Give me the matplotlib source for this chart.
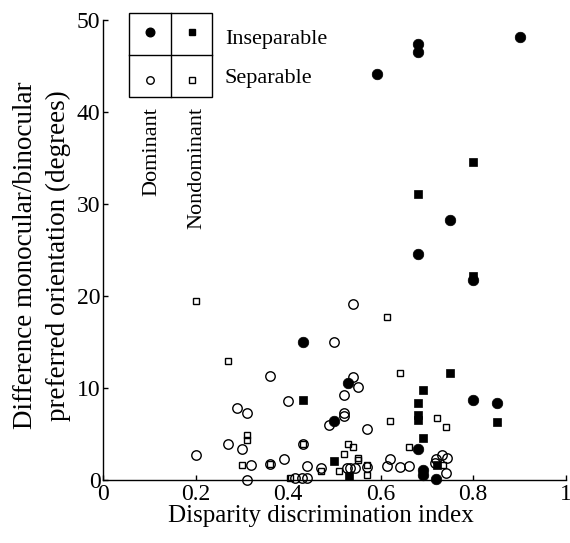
import matplotlib
matplotlib.use("Agg")
import matplotlib.pyplot as plt
from matplotlib.lines import Line2D
from matplotlib.patches import Rectangle

plt.rcParams['font.family'] = ['Liberation Serif', 'DejaVu Serif']

# Dominant eye, inseparable (filled circles)
dom_insep_x = [0.901, 0.681, 0.681, 0.591, 0.750, 0.681, 0.800, 0.431, 0.530, 0.500,
               0.800, 0.851, 0.681, 0.691, 0.691, 0.720]
dom_insep_y = [48.1, 47.4, 46.5, 44.1, 28.2, 24.5, 21.7, 15.0, 10.5, 6.4,
               8.7, 8.3, 3.3, 1.05, 0.5, 0.05]

# Nondominant eye, inseparable (filled squares)
nond_insep_x = [0.800, 0.681, 0.800, 0.750, 0.431, 0.691, 0.681, 0.681, 0.681, 0.851,
                0.691, 0.500, 0.721, 0.531]
nond_insep_y = [34.5, 31.1, 22.1, 11.6, 8.7, 9.75, 8.3, 7.0, 6.5, 6.3,
                4.5, 2.0, 1.6, 0.4]

# Dominant eye, separable (open circles)
dom_sep_x = [0.541, 0.499, 0.361, 0.400, 0.290, 0.310, 0.270, 0.300, 0.200, 0.320,
             0.360, 0.390, 0.310, 0.415, 0.431, 0.541, 0.552, 0.521, 0.521, 0.521,
             0.489, 0.571, 0.440, 0.471, 0.527, 0.534, 0.545, 0.571, 0.430, 0.440,
             0.613, 0.620, 0.642, 0.662, 0.720, 0.732, 0.743, 0.717, 0.741]
dom_sep_y = [19.1, 15.0, 11.3, 8.5, 7.8, 7.3, 3.9, 3.3, 2.7, 1.6,
             1.7, 2.2, 0.0, 0.2, 3.9, 11.2, 10.1, 9.2, 7.3, 6.9,
             5.9, 5.5, 1.5, 1.3, 1.3, 1.3, 1.3, 1.4, 0.15, 0.15,
             1.5, 2.2, 1.4, 1.5, 2.2, 2.7, 2.4, 1.8, 0.7]

# Nondominant eye, separable (open squares)
nond_sep_x = [0.200, 0.270, 0.613, 0.642, 0.620, 0.310, 0.310, 0.300, 0.360, 0.404,
              0.431, 0.530, 0.541, 0.662, 0.520, 0.552, 0.552, 0.471, 0.510, 0.571,
              0.571, 0.721, 0.741, 0.734]
nond_sep_y = [19.4, 12.9, 17.65, 11.6, 6.4, 4.9, 4.3, 1.6, 1.7, 0.2,
              3.9, 3.9, 3.6, 3.6, 2.8, 2.4, 2.1, 0.9, 0.9, 1.6,
              0.5, 6.7, 5.7, 1.6]

x_ticks = [0, 0.2, 0.4, 0.6, 0.8, 1]
x_tick_labels = ['0', '0.2', '0.4', '0.6', '0.8', '1']
y_ticks = [0, 10, 20, 30, 40, 50]

fig = plt.figure(figsize=(5.7, 5.43), dpi=100)
ax = fig.add_axes([0.181, 0.1166, 0.8114, 0.847])

ax.plot(dom_sep_x, dom_sep_y, 'o', ms=6.8, mfc='none', mec='black', mew=1.0, clip_on=False)
ax.plot(nond_sep_x, nond_sep_y, 's', ms=5.0, mfc='none', mec='black', mew=1.0, clip_on=False)
ax.plot(dom_insep_x, dom_insep_y, 'o', ms=7.6, mfc='black', mec='black', mew=0.5, clip_on=False)
ax.plot(nond_insep_x, nond_insep_y, 's', ms=5.5, mfc='black', mec='black', mew=0.5, clip_on=False)

ax.set_xlim(0, 1)
ax.set_ylim(0, 50)
ax.set_xticks(x_ticks)
ax.set_xticklabels(x_tick_labels)
ax.set_yticks(y_ticks)
for s in ['top', 'right']:
    ax.spines[s].set_visible(False)
for s in ['left', 'bottom']:
    ax.spines[s].set_linewidth(1.0)
ax.tick_params(direction='in', length=3.5, width=1.0, labelsize=17, pad=2)
ax.tick_params(axis='x', pad=3)

ax.set_xlabel('Disparity discrimination index', fontsize=18)
ax.xaxis.set_label_coords(0.47, -0.055)
ax.xaxis.label.set_verticalalignment('top')
ax.text(-0.132, 0.488, 'Difference monocular/binocular\npreferred orientation (degrees)',
        transform=ax.transAxes, rotation=90, ha='center', va='center',
        fontsize=19.5, linespacing=1.4, multialignment='center')

# Legend box (2x2 grid)
xs = [0.0558, 0.1466, 0.2353]
ys = [0.832, 0.924, 1.014]
ax.add_patch(Rectangle((xs[0], ys[0]), xs[2] - xs[0], ys[2] - ys[0], transform=ax.transAxes,
                       fill=False, lw=1.0, ec='black', clip_on=False))
ax.add_line(Line2D([xs[1], xs[1]], [ys[0], ys[2]], transform=ax.transAxes, lw=1.0,
                   color='black', clip_on=False))
ax.add_line(Line2D([xs[0], xs[2]], [ys[1], ys[1]], transform=ax.transAxes, lw=1.0,
                   color='black', clip_on=False))
ax.plot([0.101], [0.974], 'o', ms=6.2, mfc='black', mec='black', transform=ax.transAxes, clip_on=False)
ax.plot([0.191], [0.974], 's', ms=4.6, mfc='black', mec='black', transform=ax.transAxes, clip_on=False)
ax.plot([0.101], [0.869], 'o', ms=5.4, mfc='none', mec='black', mew=1.0, transform=ax.transAxes, clip_on=False)
ax.plot([0.191], [0.869], 's', ms=4.3, mfc='none', mec='black', mew=1.0, transform=ax.transAxes, clip_on=False)

ax.text(0.263, 0.9465, 'Inseparable', transform=ax.transAxes, fontsize=16, ha='left', va='baseline')
ax.text(0.263, 0.862, 'Separable', transform=ax.transAxes, fontsize=16, ha='left', va='baseline')
ax.text(0.105, 0.811, 'Dominant', transform=ax.transAxes, fontsize=16, rotation=90, ha='center', va='top')
ax.text(0.202, 0.811, 'Nondominant', transform=ax.transAxes, fontsize=16, rotation=90, ha='center', va='top')

fig.savefig('out.png', dpi=100)
